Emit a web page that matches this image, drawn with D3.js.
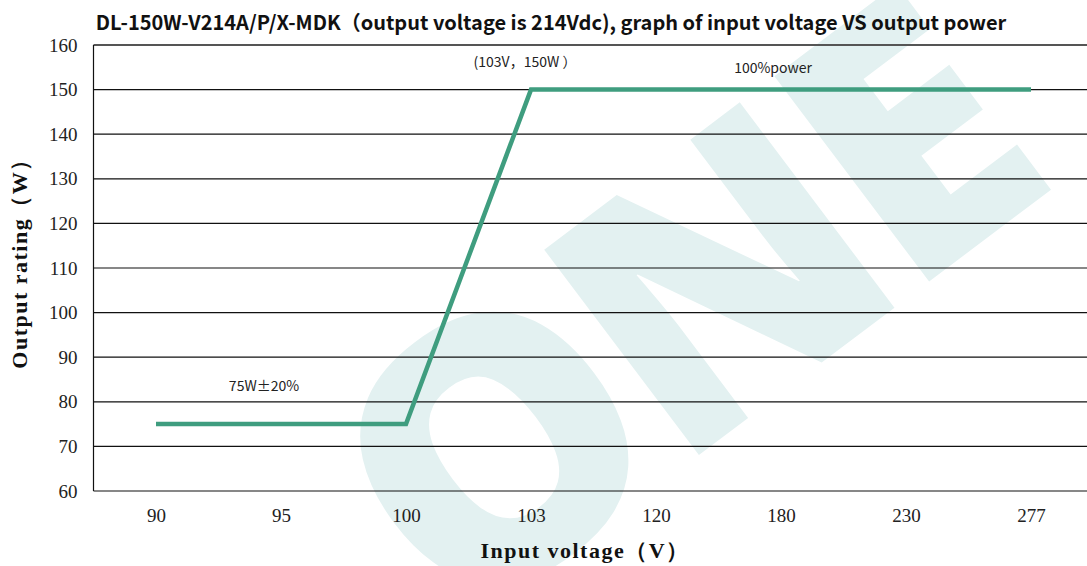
<!DOCTYPE html>
<html>
<head>
<meta charset="utf-8">
<script src="https://cdn.jsdelivr.net/npm/d3@7"></script>
<style>
  body { margin: 0; background: #fff; }
  svg { display: block; }
</style>
</head>
<body>
<svg id="chart" width="1087" height="566"></svg>
<script>
// input voltage categories and output power
const voltages = ["90", "95", "100", "103", "120", "180", "230", "277"];
const power = [75, 75, 75, 150, 150, 150, 150, 150];
const yTicks = [60, 70, 80, 90, 100, 110, 120, 130, 140, 150, 160];

const width = 1087;
const height = 566;
const plotLeft = 93.5;
const plotTop = 45;
const plotBottom = 491;

const svg = d3.select("#chart");

const x = d3.scalePoint()
  .domain(voltages)
  .range([plotLeft, plotLeft + 1000])
  .padding(0.5);

const y = d3.scaleLinear()
  .domain([60, 160])
  .range([plotBottom, plotTop]);

// faint watermark behind the chart, clipped to the page
svg.append("clipPath")
  .attr("id", "page")
  .append("rect")
  .attr("width", width)
  .attr("height", height);

svg.append("g")
  .attr("clip-path", "url(#page)")
  .append("text")
  .attr("transform", "translate(672,300) rotate(-37)")
  .attr("text-anchor", "middle")
  .attr("dominant-baseline", "central")
  .attr("font-family", "'Noto Sans', sans-serif")
  .attr("font-weight", "900")
  .attr("font-size", 360)
  .attr("letter-spacing", -12)
  .attr("fill", "#e3f1f1")
  .text("ONE");

// gridlines
svg.append("g")
  .selectAll("line")
  .data(yTicks)
  .join("line")
  .attr("x1", plotLeft)
  .attr("x2", width)
  .attr("y1", d => y(d))
  .attr("y2", d => y(d))
  .attr("stroke", d => d === 160 ? "#555" : "#111")
  .attr("stroke-width", d => d === 160 ? 2 : 1.2);

// left frame line
svg.append("line")
  .attr("x1", plotLeft).attr("x2", plotLeft)
  .attr("y1", y(160)).attr("y2", y(60))
  .attr("stroke", "#111")
  .attr("stroke-width", 1.2);

// y axis labels
const yAxis = d3.axisLeft(y).tickValues(yTicks).tickSize(0).tickPadding(16);
svg.append("g")
  .attr("transform", `translate(${plotLeft},0)`)
  .call(yAxis)
  .call(g => g.select(".domain").remove())
  .selectAll("text")
  .attr("font-family", "'Liberation Serif', serif")
  .attr("font-size", 19)
  .attr("fill", "#222");

// x axis labels
const xAxis = d3.axisBottom(x).tickSize(0).tickPadding(18);
svg.append("g")
  .attr("transform", `translate(0,${plotBottom})`)
  .call(xAxis)
  .call(g => g.select(".domain").remove())
  .selectAll("text")
  .attr("font-family", "'Liberation Serif', serif")
  .attr("font-size", 19)
  .attr("fill", "#222");

// power curve
const line = d3.line()
  .x((d, i) => x(voltages[i]))
  .y(d => y(d));

svg.append("path")
  .datum(power)
  .attr("d", line)
  .attr("fill", "none")
  .attr("stroke", "#3f9d7f")
  .attr("stroke-width", 4.5)
  .attr("stroke-linejoin", "miter");

// annotations
const notes = [
  { text: "(103V，150W ）", x: 525, y: 67 },
  { text: "100%power", x: 773, y: 73 },
  { text: "75W±20%", x: 264, y: 391 }
];
svg.append("g")
  .selectAll("text")
  .data(notes)
  .join("text")
  .attr("x", d => d.x)
  .attr("y", d => d.y)
  .attr("text-anchor", "middle")
  .attr("font-family", "'Noto Sans CJK SC', 'Noto Sans', sans-serif")
  .attr("font-size", 14)
  .attr("fill", "#222")
  .text(d => d.text);

// title
svg.append("text")
  .attr("x", 551)
  .attr("y", 30)
  .attr("text-anchor", "middle")
  .attr("font-family", "'Noto Sans CJK SC', 'Noto Sans', sans-serif")
  .attr("font-weight", "bold")
  .attr("font-size", 20)
  .attr("fill", "#111")
  .text("DL-150W-V214A/P/X-MDK（output voltage is 214Vdc), graph of input voltage VS output power");

// axis titles
svg.append("text")
  .attr("transform", "translate(27,258) rotate(-90)")
  .attr("text-anchor", "middle")
  .attr("font-family", "'Liberation Serif', serif")
  .attr("font-weight", "bold")
  .attr("font-size", 22)
  .attr("letter-spacing", 1.5)
  .attr("fill", "#111")
  .text("Output rating（W）");

svg.append("text")
  .attr("x", 585)
  .attr("y", 558)
  .attr("text-anchor", "middle")
  .attr("font-family", "'Liberation Serif', serif")
  .attr("font-weight", "bold")
  .attr("font-size", 22)
  .attr("letter-spacing", 1.5)
  .attr("fill", "#111")
  .text("Input voltage（V）");
</script>
</body>
</html>
